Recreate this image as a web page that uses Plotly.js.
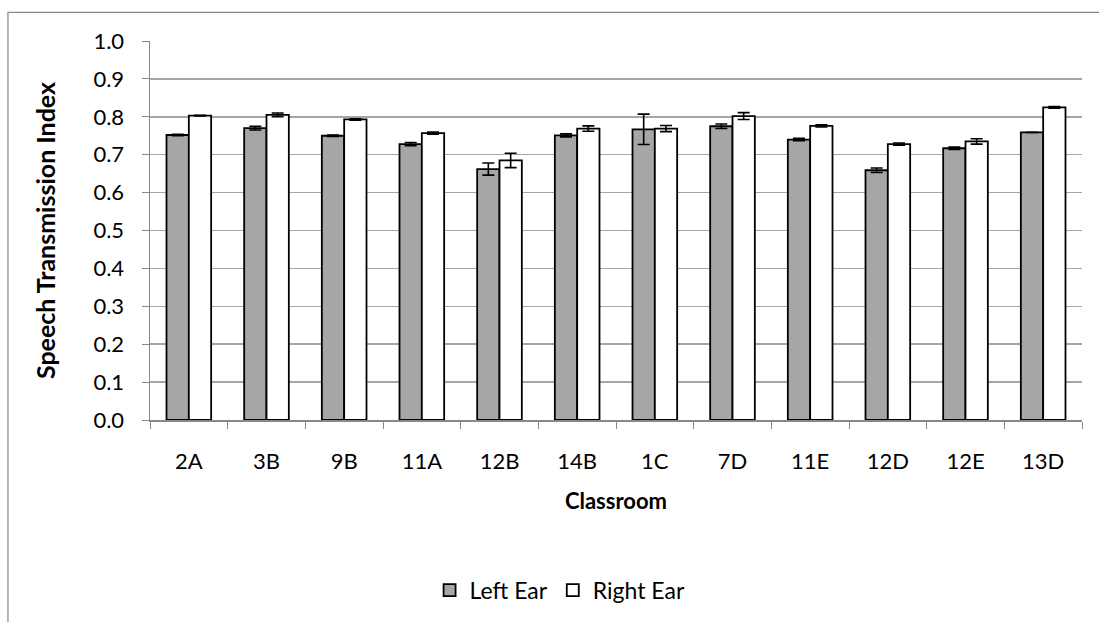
<!DOCTYPE html>
<html>
<head>
<meta charset="utf-8">
<script src="https://cdn.plot.ly/plotly-3.0.1.min.js"></script>
<style>html,body{margin:0;padding:0;background:#fff;}#chart{width:1099px;height:622px;}</style>
</head>
<body>
<div id="chart"></div>
<script>
var classrooms = ["2A","3B","9B","11A","12B","14B","1C","7D","11E","12D","12E","13D"];
var leftEar     = [0.752,0.770,0.750,0.728,0.662,0.751,0.767,0.775,0.740,0.659,0.717,0.759];
var leftErr     = [0.002,0.005,0.002,0.004,0.016,0.004,0.040,0.006,0.003,0.006,0.003,0.000];
var rightEar    = [0.803,0.805,0.793,0.757,0.685,0.769,0.769,0.802,0.776,0.728,0.735,0.825];
var rightErr    = [0.001,0.005,0.002,0.003,0.019,0.007,0.008,0.009,0.003,0.003,0.007,0.002];
var yTicks = [0,0.1,0.2,0.3,0.4,0.5,0.6,0.7,0.8,0.9,1.0];

var FONT = "Lato, 'Open Sans', sans-serif";
var traces = [
  {type:"bar", name:"Left Ear", x:classrooms, y:leftEar,
   marker:{color:"#a6a6a6", line:{color:"#000", width:1.8}},
   error_y:{type:"data", array:leftErr, visible:true, color:"#000", thickness:1.6, width:6}},
  {type:"bar", name:"Right Ear", x:classrooms, y:rightEar,
   marker:{color:"#ffffff", line:{color:"#000", width:1.8}},
   error_y:{type:"data", array:rightErr, visible:true, color:"#000", thickness:1.6, width:6}}
];

var layout = {
  width:1099, height:622,
  margin:{l:150, r:17, t:41, b:202, autoexpand:false},
  paper_bgcolor:"#fff", plot_bgcolor:"#fff",
  font:{family:FONT, size:22, color:"#000"},
  barmode:"group", bargap:0.425, bargroupgap:0,
  showlegend:true,
  legend:{orientation:"h", x:0.44, xanchor:"center", y:-0.449, yanchor:"middle",
          font:{family:FONT, size:23}, traceorder:"normal", itemwidth:30},
  xaxis:{type:"category", tickson:"boundaries", ticks:"outside", ticklen:7, tickcolor:"#888",
         showline:true, linecolor:"#888", linewidth:1.5, showgrid:false, automargin:false,
         tickfont:{family:FONT, size:22}, ticklabelstandoff:21,
         title:{text:"<b>Classroom</b>", font:{family:FONT, size:22}, standoff:20}},
  yaxis:{range:[0,1.0], tickvals:yTicks, ticktext:yTicks.map(function(v){return v.toFixed(1);}),
         ticks:"outside", ticklen:7, tickcolor:"#888", showline:true, linecolor:"#888", linewidth:1.5,
         showgrid:true, gridcolor:"#a6a6a6", gridwidth:1.5, zeroline:false, automargin:false,
         tickfont:{family:FONT, size:22}, ticklabelstandoff:13,
         title:{text:"<b>Speech Transmission Index</b>", font:{family:FONT, size:25}, standoff:30}},
  shapes:[{type:"rect", xref:"paper", yref:"paper", x0:-0.1524, x1:1.03, y0:-0.56, y1:1.0755,
           line:{color:"#888", width:1.2}, fillcolor:"rgba(0,0,0,0)", layer:"below"}]
};
Plotly.newPlot("chart", traces, layout, {displayModeBar:false, staticPlot:true});
</script>
</body>
</html>
